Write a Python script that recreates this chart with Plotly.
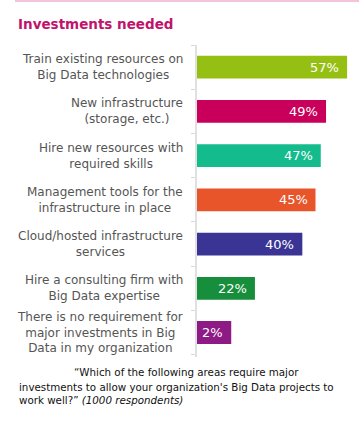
import plotly.graph_objects as go

categories = [
    "Train existing resources on<br>Big Data technologies",
    "New infrastructure<br>(storage, etc.)",
    "Hire new resources with<br>required skills",
    "Management tools for the<br>infrastructure in place",
    "Cloud/hosted infrastructure<br>services",
    "Hire a consulting firm with<br>Big Data expertise",
    "There is no requirement for<br>major investments in Big<br>Data in my organization",
]
values = [57, 49, 47, 45, 40, 22, 2]
colors = ["#96bf13", "#c8005b", "#14bb8c", "#e8552a", "#3a3495", "#178e3c", "#8e1a85"]

W, H = 359, 425
L, R, T, B = 197, 4, 45, 68
pw, ph = W - L - R, H - T - B

def px(x):
    return (x - L) / pw

def py(y):
    return (H - B - y) / ph

MIN_VISIBLE = 13  # short bars are drawn wide enough to hold their label
shown = [max(v, MIN_VISIBLE) for v in values]
ids = list(range(len(categories)))

fig = go.Figure(go.Bar(
    x=shown, y=ids, orientation="h",
    marker=dict(color=colors, line=dict(width=0)),
    hoverinfo="skip",
))

ann = []
for i, (c, v, s) in enumerate(zip(categories, values, shown)):
    ann.append(dict(x=0, xref="paper", y=i, yref="y", text=c, showarrow=False,
                    xanchor="right", yanchor="middle", align="center", xshift=-12,
                    font=dict(family="DejaVu Sans", size=12, color="#555555")))
    ann.append(dict(x=s, xref="x", y=i, yref="y", text=f"{v}%", showarrow=False,
                    xanchor="right", yanchor="middle", xshift=-6,
                    font=dict(family="DejaVu Sans", size=13, color="#ffffff")))

ann.append(dict(x=px(16), xref="paper", y=py(24), yref="paper",
                text="<b>Investments needed</b>", showarrow=False,
                xanchor="left", yanchor="middle",
                font=dict(family="DejaVu Sans", size=13.5, color="#c0136b")))
ann.append(dict(x=px(72), xref="paper", y=py(372), yref="paper",
                text="\u201cWhich of the following areas require major", showarrow=False,
                xanchor="left", yanchor="middle", align="left",
                font=dict(family="DejaVu Sans", size=10.3, color="#111111")))
ann.append(dict(x=px(17), xref="paper", y=py(379), yref="paper",
                text="investments to allow your organization's Big Data projects to<br>work well?\u201d <i>(1000 respondents)</i>",
                showarrow=False, xanchor="left", yanchor="top", align="left",
                font=dict(family="DejaVu Sans", size=10.3, color="#111111")))

fig.add_shape(type="line", xref="paper", yref="paper",
              x0=px(15), x1=px(359), y0=py(1), y1=py(1),
              line=dict(color="#e58ab8", width=1))

fig.update_layout(
    width=W, height=H,
    margin=dict(l=L, r=R, t=T, b=B),
    paper_bgcolor="white", plot_bgcolor="white",
    bargap=0.485,
    showlegend=False,
    annotations=ann,
    xaxis=dict(range=[0, 60], showgrid=False, zeroline=False, showticklabels=False,
               showline=False, ticks="", fixedrange=True),
    yaxis=dict(type="category", autorange="reversed", tickmode="array",
               tickvals=ids, ticktext=[""] * len(ids), tickson="boundaries",
               ticks="outside", ticklen=4, tickcolor="#d8d8d8",
               showline=True, linecolor="#e0e0e0", linewidth=1.5,
               showgrid=False, zeroline=False, fixedrange=True),
)

fig.write_html("out.html", config={"displayModeBar": False},
               post_script="document.body.style.margin='0';")
